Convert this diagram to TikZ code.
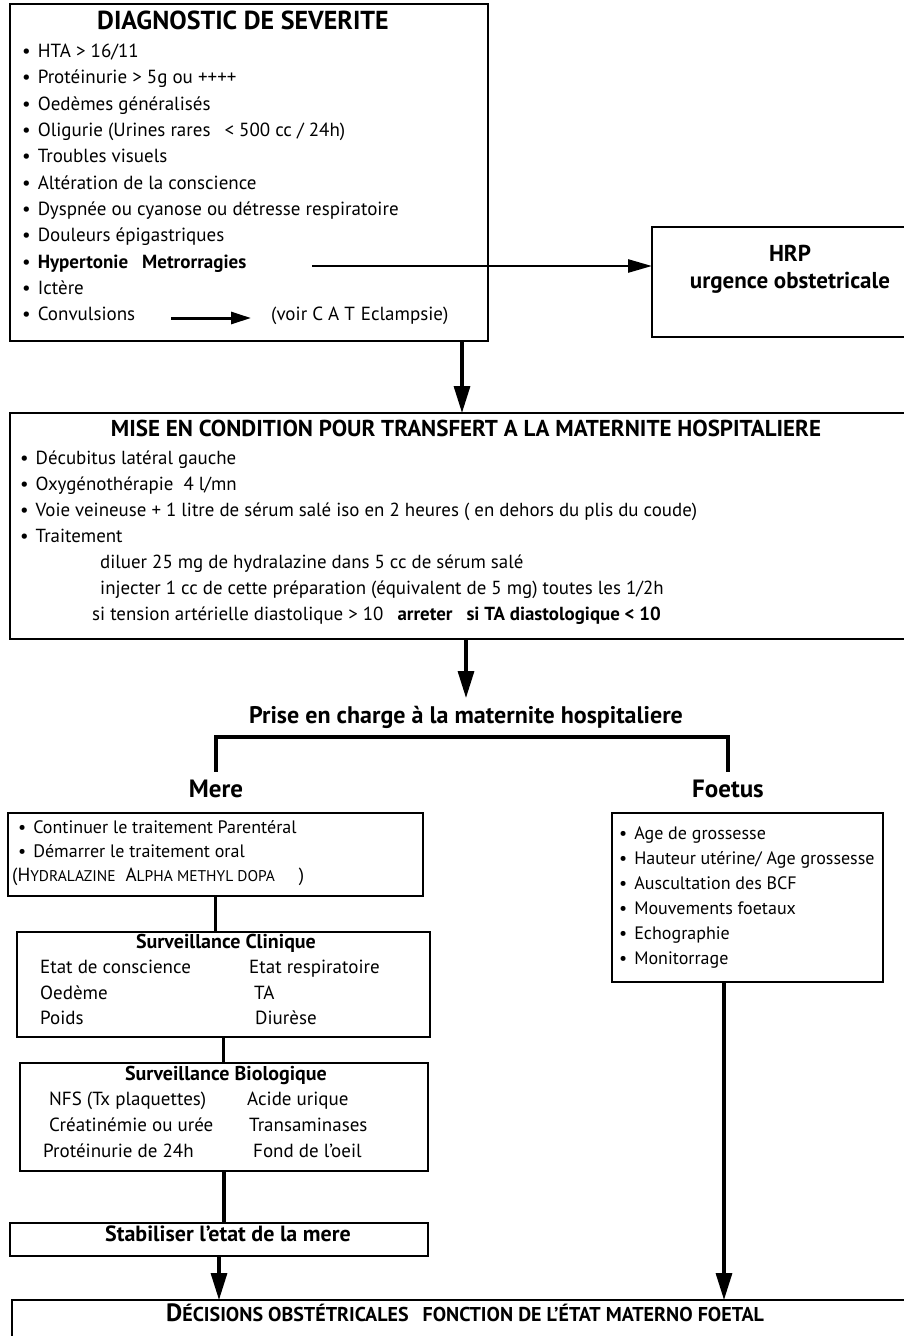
\documentclass[tikz,border=0pt]{standalone}
\usepackage{fontspec}
\setmainfont{PT Sans}
\usetikzlibrary{arrows.meta}
\newcommand{\fs}[1]{\fontsize{#1}{#1}\selectfont}
\newcommand{\itembul}{\textbullet\hspace{7pt}}
\begin{document}
\begin{tikzpicture}[x=1pt,y=-1pt,
  box/.style={draw,line width=1.5pt,anchor=north west,inner sep=0pt,outer sep=0pt},
  tl/.style={anchor=mid west,inner sep=0pt},
  tc/.style={anchor=mid,inner sep=0pt},
  itemA/.style={tl,font=\fs{19}},
  itemB/.style={tl,font=\fs{18.9}},
  itemC/.style={tl,font=\fs{18}},
  rowt/.style={tl,font=\fs{19}},
  arr/.style={line width=3.2pt,-{Triangle[length=27pt,width=16pt]}},
  arrh/.style={line width=2.6pt,-{Triangle[length=24pt,width=13pt]}},
  arrs/.style={line width=3pt,-{Triangle[length=20pt,width=12pt]}},
  link/.style={line width=3.5pt},
]
\useasboundingbox (0,0) rectangle (904,1336);

% ---------- box 1
\node[box,minimum width=478pt,minimum height=337pt] (b1) at (10,4) {};
\node[tc,font=\bfseries\fs{26}] (t1) at (243,27) {DIAGNOSTIC DE SEVERITE};
\node[itemA] (i1) at (22,55) {\itembul HTA > 16/11};
\node[itemA] (i2) at (22,81) {\itembul Protéinurie > 5g ou ++++};
\node[itemA] (i3) at (22,108) {\itembul Oedèmes généralisés};
\node[itemA] (i4) at (22,134) {\itembul Oligurie (Urines rares\hspace{14pt}< 500 cc / 24h)};
\node[itemA] (i5) at (22,160) {\itembul Troubles visuels};
\node[itemA] (i6) at (22,187) {\itembul Altération de la conscience};
\node[itemA] (i7) at (22,213) {\itembul Dyspnée ou cyanose ou détresse respiratoire};
\node[itemA] (i8) at (22,239) {\itembul Douleurs épigastriques};
\node[itemA] (hyp) at (22,266) {\itembul \textbf{Hypertonie\hspace{14pt}Metrorragies}};
\node[itemA] (i10) at (22,292) {\itembul Ictère};
\node[itemA] (conv) at (22,318) {\itembul Convulsions};
\node[itemA] (voir) at (271,318) {(voir C A T\hspace{6pt}Eclampsie)};
\draw[arrs,shorten <=36pt,shorten >=20pt] (conv.mid east) -- (voir.mid west);

% ---------- HRP
\node[box,minimum width=260pt,minimum height=110pt] (hrp) at (652,227) {};
\node[tc,font=\bfseries\fs{23}] (hrp1) at (790,259) {HRP};
\node[tc,font=\bfseries\fs{23}] (hrp2) at (790,286) {urgence obstetricale};
\coordinate (hs) at (312,266);
\draw[arrh] (hs) -- (hs -| hrp.west);

% ---------- MISE EN CONDITION
\node[box,minimum width=900pt,minimum height=226pt] (mise) at (10,413) {};
\coordinate (ax) at (462,0);
\draw[arr] (b1.south -| ax) -- (mise.north -| ax);
\node[tc,font=\bfseries\fs{23}] (t2) at (466,434) {MISE EN CONDITION POUR TRANSFERT A LA MATERNITE HOSPITALIERE};
\node[itemB] (m1) at (20,462) {\itembul Décubitus latéral gauche};
\node[itemB] (m2) at (20,488) {\itembul Oxygénothérapie\hspace{10pt}4 l/mn};
\node[itemB] (m3) at (20,514) {\itembul Voie veineuse + 1 litre de sérum salé iso en 2 heures ( en dehors du plis du coude)};
\node[itemB] (m4) at (20,540) {\itembul Traitement};
\node[itemB] (m5) at (100,566) {diluer 25 mg de hydralazine dans 5 cc de sérum salé};
\node[itemB] (m6) at (100,592) {injecter 1 cc de cette préparation (équivalent de 5 mg) toutes les 1/2h};
\node[itemB] (m7) at (92,618) {si tension artérielle diastolique > 10\hspace{14pt}\textbf{arreter\hspace{14pt}si TA diastologique < 10}};

% ---------- Prise en charge
\node[tc,font=\bfseries\fs{24}] (prise) at (466,721) {Prise en charge à la maternite hospitaliere};
\draw[arr,shorten >=8pt] (mise.south -| prise.north) -- (prise.north);
\node[tc,font=\bfseries\fs{25}] (mereL) at (216,795) {Mere};
\node[tc,font=\bfseries\fs{25}] (foetusL) at (728,795) {Foetus};
\draw[link] ([yshift=8pt]mereL.north) -- ([yshift=43pt]mereL.north) -| ([yshift=8pt]foetusL.north);

% ---------- Mere column
\node[box,minimum width=415pt,minimum height=83pt] (mbox) at (8,813) {};
\node[itemC] (c1) at (18,831) {\itembul Continuer le traitement Parentéral};
\node[itemC] (c2) at (18,855) {\itembul Démarrer le traitement oral};
\node[tl] (c3) at (12,879) {\fs{19}(H\fs{15.5}YDRALAZINE\hspace{10pt}\fs{19}A\fs{15.5}LPHA METHYL DOPA\hspace{24pt}\fs{19})};

\node[box,minimum width=413pt,minimum height=105pt] (clin) at (17,932) {};
\draw[link] (mbox.south) -- (mbox.south |- clin.north);
\node[tc,font=\bfseries\fs{20}] (clint) at (226,946) {Surveillance Clinique};
\node[rowt] (r1a) at (40,971) {Etat de conscience};
\node[rowt] (r1b) at (249,971) {Etat respiratoire};
\node[rowt] (r2a) at (40,997) {Oedème};
\node[rowt] (r2b) at (254,997) {TA};
\node[rowt] (r3a) at (40,1022) {Poids};
\node[rowt] (r3b) at (255,1022) {Diurèse};

\node[box,minimum width=408pt,minimum height=108pt] (bio) at (20,1063) {};
\draw[link] (clin.south) -- (clin.south |- bio.north);
\node[tc,font=\bfseries\fs{20}] (biot) at (226,1078) {Surveillance Biologique};
\node[rowt] (s1a) at (49,1103) {NFS (Tx plaquettes)};
\node[rowt] (s1b) at (247,1103) {Acide urique};
\node[rowt] (s2a) at (49,1129) {Créatinémie ou urée};
\node[rowt] (s2b) at (249,1129) {Transaminases};
\node[rowt] (s3a) at (43,1155) {Protéinurie de 24h};
\node[rowt] (s3b) at (253,1155) {Fond de l'oeil};

\node[box,minimum width=418pt,minimum height=33pt] (stab) at (10,1223) {};
\draw[link] (bio.south) -- (bio.south |- stab.north);
\node[tc,font=\bfseries\fs{22}] (stabt) at (228,1239) {Stabiliser l'etat de la mere};

% ---------- Foetus column
\node[box,minimum width=271pt,minimum height=169pt] (fbox) at (612,813) {};
\node[itemC] (f1) at (619,837) {\itembul Age de grossesse};
\node[itemC] (f2) at (619,862) {\itembul Hauteur utérine/ Age grossesse};
\node[itemC] (f3) at (619,887) {\itembul Auscultation des BCF};
\node[itemC] (f4) at (619,912) {\itembul Mouvements foetaux};
\node[itemC] (f5) at (619,937) {\itembul Echographie};
\node[itemC] (f6) at (619,962) {\itembul Monitorrage};

% ---------- Decisions
\node[box,minimum width=900pt,minimum height=80pt] (dec) at (12,1300) {};
\draw[arr] (stab.south) -- (stab.south |- dec.north);
\coordinate (fx) at (724,0);
\draw[arr] (fbox.south -| fx) -- (dec.north -| fx);
\node[tl,font=\bfseries] (dect) at (166,1319) {\fs{25}D\fs{20}ÉCISIONS OBSTÉTRICALES\hspace{14pt}FONCTION DE L’ÉTAT MATERNO FOETAL};
\end{tikzpicture}
\end{document}
